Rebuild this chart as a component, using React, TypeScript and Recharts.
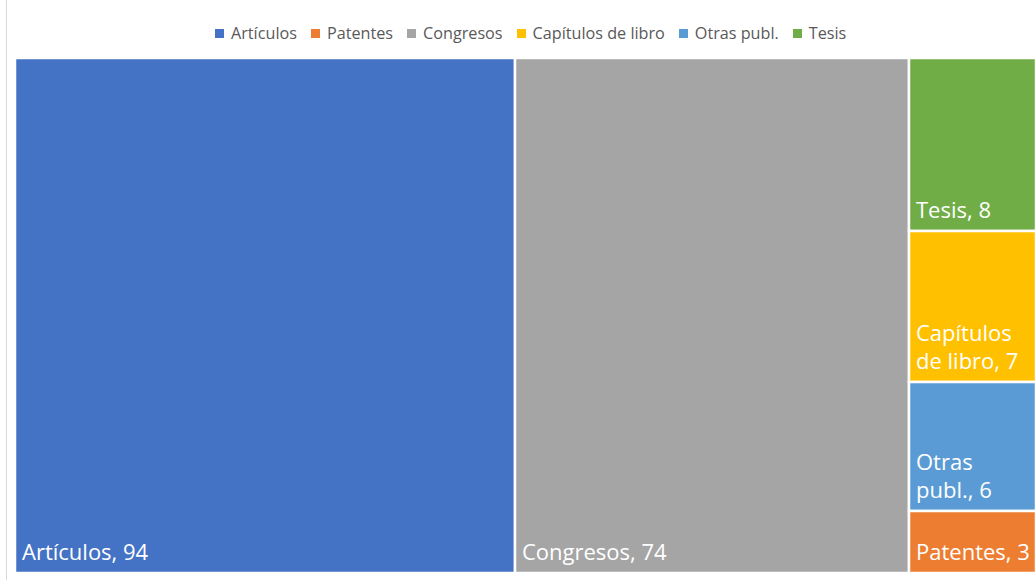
import { Treemap } from 'recharts'

// treemap order (largest first, as squarify lays them out)
const categories = ['Artículos', 'Congresos', 'Tesis', 'Capítulos de libro', 'Otras publ.', 'Patentes']
const values = [94, 74, 8, 7, 6, 3]

// legend order as in the original
const legendOrder = ['Artículos', 'Patentes', 'Congresos', 'Capítulos de libro', 'Otras publ.', 'Tesis']

const colors: Record<string, string> = {
  'Artículos': '#4472C4',
  'Patentes': '#ED7D31',
  'Congresos': '#A5A5A5',
  'Capítulos de libro': '#FFC000',
  'Otras publ.': '#5B9BD5',
  'Tesis': '#70AD47',
}

const data = categories.map((name, i) => ({ name, size: values[i] }))

const FONT = '"Open Sans", "Noto Sans", sans-serif'
const LABEL_SIZE = 22
const LINE_H = 28

let ctx: CanvasRenderingContext2D | null = null
function measure(text: string) {
  if (!ctx) {
    ctx = document.createElement('canvas').getContext('2d')
    if (ctx) ctx.font = `${LABEL_SIZE}px "Open Sans"`
  }
  return ctx ? ctx.measureText(text).width : text.length * LABEL_SIZE * 0.55
}

function wrap(text: string, maxWidth: number) {
  const words = text.split(' ')
  const lines: string[] = []
  let cur = ''
  for (const w of words) {
    const next = cur ? cur + ' ' + w : w
    if (cur && measure(next) > maxWidth) {
      lines.push(cur)
      cur = w
    } else {
      cur = next
    }
  }
  if (cur) lines.push(cur)
  return lines
}

function Cell(props: any) {
  const { x, y, width, height, depth, name, value } = props
  if (depth !== 1) return <g />
  const lines = wrap(`${name}, ${value}`, width - 10)
  const lastBase = y + height - 13
  return (
    <g>
      <rect x={x} y={y} width={width} height={height} fill={colors[name]} stroke="#fff" strokeWidth={2.5} />
      {lines.map((line, i) => (
        <text
          key={i}
          x={x + 7}
          y={lastBase - (lines.length - 1 - i) * LINE_H}
          fill="#fff"
          fontSize={LABEL_SIZE}
          fontFamily={FONT}
        >
          {line}
        </text>
      ))}
    </g>
  )
}

export default function App() {
  return (
    <div>
      <div style={{ position: 'absolute', left: 6, top: 0, height: 580, borderLeft: '1px solid #d9d9d9' }} />
      <div
        style={{
          position: 'absolute',
          left: 215,
          top: 22,
          display: 'flex',
          alignItems: 'center',
          fontFamily: FONT,
          fontSize: 16.2,
          color: '#595959',
          whiteSpace: 'nowrap',
        }}
      >
        {legendOrder.map((name) => (
          <span key={name} style={{ display: 'flex', alignItems: 'center', marginRight: 14 }}>
            <span style={{ width: 9, height: 9, background: colors[name], marginRight: 7, display: 'inline-block' }} />
            {name}
          </span>
        ))}
      </div>
      <div style={{ position: 'absolute', left: 15, top: 58 }}>
        <Treemap
          width={1021}
          height={515}
          data={data}
          dataKey="size"
          nameKey="name"
          isAnimationActive={false}
          content={<Cell />}
        />
      </div>
    </div>
  )
}
